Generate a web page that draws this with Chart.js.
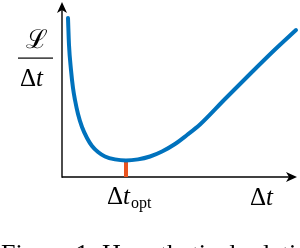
<!DOCTYPE html>
<html lang="en">
<head>
  <meta charset="UTF-8" />
  <title>L / Δt versus Δt</title>
  <script src="https://cdn.jsdelivr.net/npm/chart.js"></script>
  <style>
    html, body { margin: 0; padding: 0; background: #fff; }
    #wrap { position: relative; width: 300px; height: 248px; overflow: hidden; }
  </style>
</head>
<body>
  <div id="wrap"><canvas id="curveChart" width="300" height="248"></canvas></div>

  <script>
    // values (arbitrary units, origin at the axes corner)
    const dtValues   = [6, 7, 9, 11, 13, 16, 20, 25, 30, 36, 43, 53, 64, 76, 88, 100, 113, 125, 138, 163, 188, 213, 234];
    const lossValues = [159, 132, 107, 89, 77, 63, 50, 39, 31, 25, 20.5, 17.6, 16.5, 17.6, 20.5, 25.5, 33, 42, 52.5, 78, 103, 127.5, 147];
    const dtOpt = 64;      // where the orange marker sits
    const lossOpt = 16.5;  // marker height (minimum of the curve)
    const xMax = 235;
    const yMax = 175;

    const yLabelTop = "ℒ";
    const optSub = "opt";
    const caption = "Figure 1: Hypothetical relationship between";

    const blue = "#0072BD";
    const orange = "#E9531F";

    // draws arrow axes, the math labels and the cut-off caption
    const axesAndLabels = {
      id: "axesAndLabels",
      beforeDatasetsDraw(chart) {
        const { ctx, chartArea: a } = chart;
        ctx.save();
        ctx.strokeStyle = "#000";
        ctx.fillStyle = "#000";
        ctx.lineWidth = 1.4;

        // x axis + arrow
        ctx.beginPath();
        ctx.moveTo(a.left, a.bottom);
        ctx.lineTo(a.right - 6, a.bottom);
        ctx.stroke();
        ctx.beginPath();
        ctx.moveTo(a.right, a.bottom);
        ctx.lineTo(a.right - 11, a.bottom - 5);
        ctx.lineTo(a.right - 8, a.bottom);
        ctx.lineTo(a.right - 11, a.bottom + 5);
        ctx.closePath();
        ctx.fill();

        // y axis + arrow
        ctx.beginPath();
        ctx.moveTo(a.left, a.bottom + 0.7);
        ctx.lineTo(a.left, a.top + 6);
        ctx.stroke();
        ctx.beginPath();
        ctx.moveTo(a.left, a.top);
        ctx.lineTo(a.left - 5, a.top + 11);
        ctx.lineTo(a.left, a.top + 8);
        ctx.lineTo(a.left + 5, a.top + 11);
        ctx.closePath();
        ctx.fill();
        ctx.restore();
      },
      afterDatasetsDraw(chart) {
        const { ctx, scales } = chart;
        ctx.save();
        ctx.fillStyle = "#000";
        ctx.textBaseline = "alphabetic";
        ctx.textAlign = "left";

        // y label as a fraction
        ctx.font = "26px 'DejaVu Serif'";
        const lw = ctx.measureText(yLabelTop).width;
        ctx.fillText(yLabelTop, 37 - lw / 2, 48);
        ctx.fillRect(18, 57.5, 35, 1.2);
        drawDeltaT(ctx, 20, 86);

        // x label
        drawDeltaT(ctx, 250, 205);

        // Δt_opt under the marker
        const xo = scales.x.getPixelForValue(dtOpt);
        const w = drawDeltaT(ctx, xo - 19, 204);
        ctx.font = "16px 'Liberation Serif'";
        ctx.fillText(optSub, xo - 19 + w + 1, 208);

        // caption, mostly cut off by the bottom edge
        ctx.font = "26px 'Liberation Serif'";
        ctx.fillText(caption, 1, 262);
        ctx.restore();
      }
    };

    function drawDeltaT(ctx, x, y) {
      ctx.font = "25px 'Liberation Serif'";
      ctx.fillText("Δ", x, y);
      const dw = ctx.measureText("Δ").width;
      ctx.font = "italic 25px 'Liberation Serif'";
      ctx.fillText("t", x + dw, y);
      return dw + ctx.measureText("t").width;
    }

    const ctx = document.getElementById("curveChart").getContext("2d");
    new Chart(ctx, {
      type: "line",
      data: {
        datasets: [
          {
            data: dtValues.map((x, i) => ({ x: x, y: lossValues[i] })),
            borderColor: blue,
            borderWidth: 4,
            borderCapStyle: "round",
            cubicInterpolationMode: "monotone",
            pointRadius: 0,
            clip: false,
            order: 1
          },
          {
            data: [{ x: dtOpt, y: 0 }, { x: dtOpt, y: lossOpt }],
            borderColor: orange,
            borderWidth: 4,
            pointRadius: 0,
            order: 2
          }
        ]
      },
      options: {
        responsive: false,
        animation: false,
        layout: { padding: { left: 62, right: 3, top: 2, bottom: 71 } },
        plugins: { legend: { display: false }, tooltip: { enabled: false } },
        scales: {
          x: { type: "linear", min: 0, max: xMax, display: false },
          y: { type: "linear", min: 0, max: yMax, display: false }
        }
      },
      plugins: [axesAndLabels]
    });
  </script>
</body>
</html>
